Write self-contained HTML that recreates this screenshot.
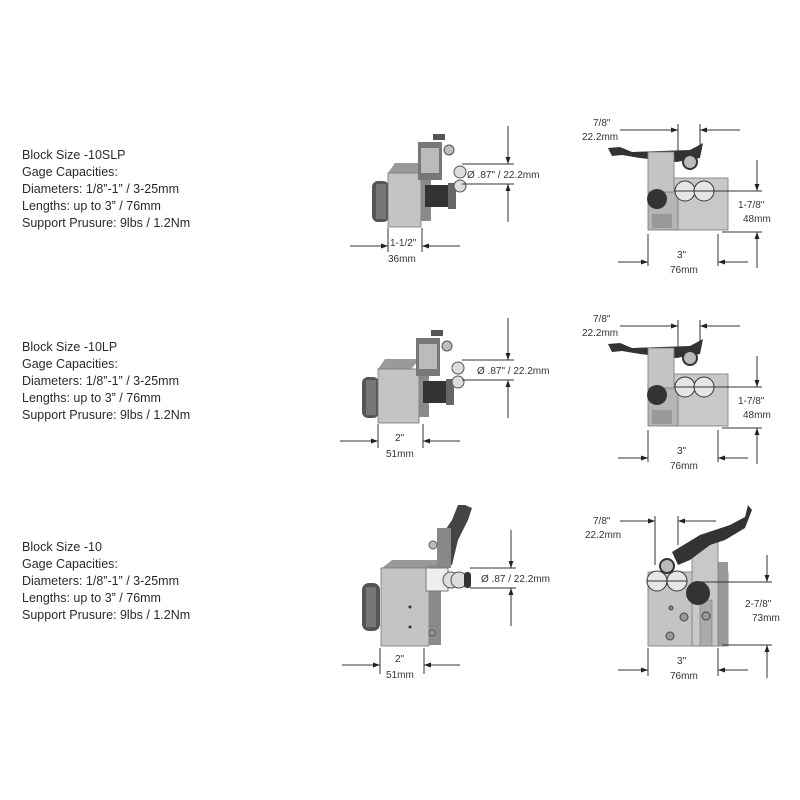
<!DOCTYPE html>
<html><head><meta charset="utf-8"><style>
html,body{margin:0;padding:0;background:#fff;}
svg{display:block}
text{font-family:"Liberation Sans",sans-serif;fill:#333;}
.t{font-size:12.5px;fill:#2a2a2a}
.d{font-size:10px;fill:#333}
.l{stroke:#333;stroke-width:1;fill:none}
</style></head><body>
<svg width="800" height="800" viewBox="0 0 800 800" xmlns="http://www.w3.org/2000/svg">
<defs>
<marker id="a" viewBox="0 0 10 10" refX="10" refY="5" markerWidth="10" markerHeight="7" orient="auto" markerUnits="userSpaceOnUse"><path d="M0,1.5L10,5L0,8.5z" fill="#222"/></marker>
</defs>
<rect width="800" height="800" fill="#fff"/>

<!-- left texts -->
<g class="t">
<text x="22" y="159" class="t">Block Size -10SLP</text>
<text x="22" y="176" class="t">Gage Capacities:</text>
<text x="22" y="193" class="t">Diameters: 1/8”-1” / 3-25mm</text>
<text x="22" y="210" class="t">Lengths: up to 3” / 76mm</text>
<text x="22" y="227" class="t">Support Prusure: 9lbs / 1.2Nm</text>

<text x="22" y="351" class="t">Block Size -10LP</text>
<text x="22" y="368" class="t">Gage Capacities:</text>
<text x="22" y="385" class="t">Diameters: 1/8”-1” / 3-25mm</text>
<text x="22" y="402" class="t">Lengths: up to 3” / 76mm</text>
<text x="22" y="419" class="t">Support Prusure: 9lbs / 1.2Nm</text>

<text x="22" y="551" class="t">Block Size -10</text>
<text x="22" y="568" class="t">Gage Capacities:</text>
<text x="22" y="585" class="t">Diameters: 1/8”-1” / 3-25mm</text>
<text x="22" y="602" class="t">Lengths: up to 3” / 76mm</text>
<text x="22" y="619" class="t">Support Prusure: 9lbs / 1.2Nm</text>
</g>

<!-- ROW 1 left object -->
<g id="L1">
<rect x="372" y="181" width="17" height="41" rx="6" fill="#555"/>
<rect x="376" y="184" width="10" height="35" fill="#777"/>
<polygon points="388,173 395,163 430,163 421,173" fill="#9a9a9a"/>
<rect x="388" y="173" width="33" height="54" fill="#c4c4c4" stroke="#777" stroke-width=".8"/>
<rect x="421" y="163" width="10" height="58" fill="#8a8a8a"/>
<rect x="418" y="142" width="24" height="38" fill="#777"/>
<rect x="421" y="148" width="18" height="25" fill="#bbb"/>
<circle cx="449" cy="150" r="5" fill="#bbb" stroke="#555"/>
<rect x="433" y="134" width="12" height="6" fill="#555"/>
<rect x="425" y="185" width="27" height="22" fill="#333"/>
<rect x="448" y="183" width="8" height="26" fill="#666"/>
<circle cx="460" cy="172" r="6" fill="#ddd" stroke="#555"/>
<circle cx="460" cy="186" r="6" fill="#ddd" stroke="#555"/>
</g>
<g id="D1">
<line class="l" x1="462" y1="164" x2="514" y2="164"/>
<line class="l" x1="462" y1="184" x2="514" y2="184"/>
<line class="l" x1="508" y1="126" x2="508" y2="164" marker-end="url(#a)"/>
<line class="l" x1="508" y1="222" x2="508" y2="184" marker-end="url(#a)"/>
<text class="d" x="467" y="178">Ø .87" / 22.2mm</text>
<line class="l" x1="388" y1="228" x2="388" y2="252"/>
<line class="l" x1="422" y1="228" x2="422" y2="252"/>
<line class="l" x1="350" y1="246" x2="388" y2="246" marker-end="url(#a)"/>
<line class="l" x1="460" y1="246" x2="422" y2="246" marker-end="url(#a)"/>
<text class="d" x="390" y="246">1-1/2"</text>
<text class="d" x="388" y="262">36mm</text>
</g>

<!-- ROW 1 right object -->
<g id="R1">
<rect x="672" y="178" width="56" height="52" fill="#c8c8c8" stroke="#777" stroke-width=".8"/>
<rect x="648" y="188" width="30" height="42" fill="#b5b5b5" stroke="#777" stroke-width=".8"/>
<rect x="652" y="214" width="20" height="14" fill="#999"/>
<path d="M608,148 L620,147 L632,152 L690,150 L703,143 L700,158 L676,162 L640,158 L622,155 L612,156z" fill="#333"/>
<rect x="648" y="152" width="26" height="40" fill="#c4c4c4" stroke="#777" stroke-width=".8"/>
<circle cx="690" cy="162" r="7" fill="#bbb" stroke="#333" stroke-width="2"/>
<circle cx="685" cy="191" r="10" fill="#e6e6e6" stroke="#333"/>
<circle cx="704" cy="191" r="10" fill="#e6e6e6" stroke="#333"/>
<line class="l" x1="675" y1="191" x2="714" y2="191"/>
<circle cx="657" cy="199" r="10" fill="#333"/>
</g>
<g id="RD1">
<text class="d" x="593" y="126">7/8"</text>
<text class="d" x="582" y="140">22.2mm</text>
<line class="l" x1="620" y1="130" x2="678" y2="130" marker-end="url(#a)"/>
<line class="l" x1="678" y1="124" x2="678" y2="162"/>
<line class="l" x1="700" y1="124" x2="700" y2="150"/>
<line class="l" x1="740" y1="130" x2="700" y2="130" marker-end="url(#a)"/>
<line class="l" x1="757" y1="160" x2="757" y2="191" marker-end="url(#a)"/>
<line class="l" x1="700" y1="191" x2="762" y2="191"/>
<line class="l" x1="722" y1="232" x2="762" y2="232"/>
<line class="l" x1="757" y1="268" x2="757" y2="232" marker-end="url(#a)"/>
<text class="d" x="738" y="208">1-7/8"</text>
<text class="d" x="743" y="222">48mm</text>
<line class="l" x1="648" y1="234" x2="648" y2="266"/>
<line class="l" x1="718" y1="234" x2="718" y2="266"/>
<line class="l" x1="618" y1="262" x2="648" y2="262" marker-end="url(#a)"/>
<line class="l" x1="748" y1="262" x2="718" y2="262" marker-end="url(#a)"/>
<text class="d" x="677" y="258">3"</text>
<text class="d" x="670" y="273">76mm</text>
</g>

<!-- ROW 2 -->
<g transform="translate(-10,196)">
<rect x="372" y="181" width="17" height="41" rx="6" fill="#555"/>
<rect x="376" y="184" width="10" height="35" fill="#777"/>
<polygon points="388,173 395,163 430,163 421,173" fill="#9a9a9a"/>
<rect x="388" y="173" width="41" height="54" fill="#c4c4c4" stroke="#777" stroke-width=".8"/>
<rect x="429" y="163" width="10" height="58" fill="#8a8a8a"/>
<rect x="426" y="142" width="24" height="38" fill="#777"/>
<rect x="429" y="148" width="18" height="25" fill="#bbb"/>
<circle cx="457" cy="150" r="5" fill="#bbb" stroke="#555"/>
<rect x="441" y="134" width="12" height="6" fill="#555"/>
<rect x="433" y="185" width="27" height="22" fill="#333"/>
<rect x="456" y="183" width="8" height="26" fill="#666"/>
<circle cx="468" cy="172" r="6" fill="#ddd" stroke="#555"/>
<circle cx="468" cy="186" r="6" fill="#ddd" stroke="#555"/>
</g>
<g transform="translate(0,196)">
<line class="l" x1="462" y1="164" x2="514" y2="164"/>
<line class="l" x1="462" y1="184" x2="514" y2="184"/>
<line class="l" x1="508" y1="122" x2="508" y2="164" marker-end="url(#a)"/>
<line class="l" x1="508" y1="222" x2="508" y2="184" marker-end="url(#a)"/>
<text class="d" x="477" y="178">Ø .87" / 22.2mm</text>
<line class="l" x1="378" y1="228" x2="378" y2="252"/>
<line class="l" x1="423" y1="228" x2="423" y2="252"/>
<line class="l" x1="340" y1="245" x2="378" y2="245" marker-end="url(#a)"/>
<line class="l" x1="460" y1="245" x2="423" y2="245" marker-end="url(#a)"/>
<text class="d" x="395" y="245">2"</text>
<text class="d" x="386" y="261">51mm</text>
</g>
<g transform="translate(0,196)">
<rect x="672" y="178" width="56" height="52" fill="#c8c8c8" stroke="#777" stroke-width=".8"/>
<rect x="648" y="188" width="30" height="42" fill="#b5b5b5" stroke="#777" stroke-width=".8"/>
<rect x="652" y="214" width="20" height="14" fill="#999"/>
<path d="M608,148 L620,147 L632,152 L690,150 L703,143 L700,158 L676,162 L640,158 L622,155 L612,156z" fill="#333"/>
<rect x="648" y="152" width="26" height="40" fill="#c4c4c4" stroke="#777" stroke-width=".8"/>
<circle cx="690" cy="162" r="7" fill="#bbb" stroke="#333" stroke-width="2"/>
<circle cx="685" cy="191" r="10" fill="#e6e6e6" stroke="#333"/>
<circle cx="704" cy="191" r="10" fill="#e6e6e6" stroke="#333"/>
<line class="l" x1="675" y1="191" x2="714" y2="191"/>
<circle cx="657" cy="199" r="10" fill="#333"/>
<text class="d" x="593" y="126">7/8"</text>
<text class="d" x="582" y="140">22.2mm</text>
<line class="l" x1="620" y1="130" x2="678" y2="130" marker-end="url(#a)"/>
<line class="l" x1="678" y1="124" x2="678" y2="162"/>
<line class="l" x1="700" y1="124" x2="700" y2="150"/>
<line class="l" x1="740" y1="130" x2="700" y2="130" marker-end="url(#a)"/>
<line class="l" x1="757" y1="160" x2="757" y2="191" marker-end="url(#a)"/>
<line class="l" x1="700" y1="191" x2="762" y2="191"/>
<line class="l" x1="722" y1="232" x2="762" y2="232"/>
<line class="l" x1="757" y1="268" x2="757" y2="232" marker-end="url(#a)"/>
<text class="d" x="738" y="208">1-7/8"</text>
<text class="d" x="743" y="222">48mm</text>
<line class="l" x1="648" y1="234" x2="648" y2="266"/>
<line class="l" x1="718" y1="234" x2="718" y2="266"/>
<line class="l" x1="618" y1="262" x2="648" y2="262" marker-end="url(#a)"/>
<line class="l" x1="748" y1="262" x2="718" y2="262" marker-end="url(#a)"/>
<text class="d" x="677" y="258">3"</text>
<text class="d" x="670" y="273">76mm</text>
</g>

<!-- ROW 3 left -->
<g>
<rect x="362" y="583" width="18" height="48" rx="7" fill="#555"/>
<rect x="366" y="587" width="10" height="40" fill="#777"/>
<polygon points="382,568 392,560 445,560 440,568" fill="#999"/>
<rect x="381" y="568" width="48" height="78" fill="#c4c4c4" stroke="#777" stroke-width=".8"/>
<rect x="429" y="565" width="12" height="80" fill="#8a8a8a"/>
<path d="M465,505 L472,508 L468,520 L458,540 L452,565 L440,565 L442,535 L452,520 L458,505z" fill="#444"/>
<rect x="437" y="528" width="14" height="40" fill="#888"/>
<circle cx="433" cy="545" r="4" fill="#bbb" stroke="#555"/>
<rect x="426" y="568" width="22" height="23" fill="#eee" stroke="#777"/>
<circle cx="451" cy="580" r="8" fill="#ddd" stroke="#555"/>
<circle cx="459" cy="580" r="8" fill="#ddd" stroke="#555"/>
<rect x="464" y="572" width="7" height="16" rx="3" fill="#333"/>
<circle cx="410" cy="607" r="1.5" fill="#333"/>
<circle cx="410" cy="627" r="1.5" fill="#333"/>
<circle cx="432" cy="633" r="3" fill="#999" stroke="#555"/>
</g>
<g>
<line class="l" x1="470" y1="568" x2="516" y2="568"/>
<line class="l" x1="470" y1="588" x2="516" y2="588"/>
<line class="l" x1="511" y1="530" x2="511" y2="568" marker-end="url(#a)"/>
<line class="l" x1="511" y1="626" x2="511" y2="588" marker-end="url(#a)"/>
<text class="d" x="481" y="582">Ø .87 / 22.2mm</text>
<line class="l" x1="380" y1="648" x2="380" y2="674"/>
<line class="l" x1="424" y1="648" x2="424" y2="674"/>
<line class="l" x1="342" y1="665" x2="380" y2="665" marker-end="url(#a)"/>
<line class="l" x1="460" y1="665" x2="424" y2="665" marker-end="url(#a)"/>
<text class="d" x="395" y="662">2"</text>
<text class="d" x="386" y="678">51mm</text>
</g>

<!-- ROW 3 right -->
<g>
<rect x="648" y="572" width="80" height="74" fill="#c4c4c4" stroke="#777" stroke-width=".8"/>
<rect x="718" y="562" width="10" height="84" fill="#999"/>
<rect x="692" y="540" width="26" height="106" fill="#c8c8c8" stroke="#777" stroke-width=".8"/>
<rect x="700" y="600" width="12" height="46" fill="#aaa" stroke="#777" stroke-width=".6"/>
<path d="M672,552 L700,535 L730,525 L745,517 L748,505 L752,510 L745,528 L725,540 L710,545 L690,560 L678,565z" fill="#333"/>
<circle cx="667" cy="566" r="7" fill="#bbb" stroke="#333" stroke-width="2"/>
<circle cx="657" cy="581" r="10" fill="#e6e6e6" stroke="#333"/>
<circle cx="677" cy="581" r="10" fill="#e6e6e6" stroke="#333"/>
<line class="l" x1="647" y1="581" x2="687" y2="581"/>
<circle cx="698" cy="593" r="12" fill="#333"/>
<circle cx="671" cy="608" r="2" fill="#888" stroke="#444"/>
<circle cx="684" cy="617" r="4" fill="#999" stroke="#444"/>
<circle cx="670" cy="636" r="4" fill="#999" stroke="#444"/>
<circle cx="706" cy="616" r="4" fill="#999" stroke="#444"/>
</g>
<g>
<text class="d" x="593" y="524">7/8"</text>
<text class="d" x="585" y="538">22.2mm</text>
<line class="l" x1="620" y1="521" x2="655" y2="521" marker-end="url(#a)"/>
<line class="l" x1="655" y1="516" x2="655" y2="565"/>
<line class="l" x1="678" y1="516" x2="678" y2="545"/>
<line class="l" x1="716" y1="521" x2="678" y2="521" marker-end="url(#a)"/>
<line class="l" x1="767" y1="555" x2="767" y2="582" marker-end="url(#a)"/>
<line class="l" x1="700" y1="582" x2="772" y2="582"/>
<line class="l" x1="722" y1="645" x2="772" y2="645"/>
<line class="l" x1="767" y1="678" x2="767" y2="645" marker-end="url(#a)"/>
<text class="d" x="745" y="607">2-7/8"</text>
<text class="d" x="752" y="621">73mm</text>
<line class="l" x1="648" y1="648" x2="648" y2="676"/>
<line class="l" x1="718" y1="648" x2="718" y2="676"/>
<line class="l" x1="618" y1="670" x2="648" y2="670" marker-end="url(#a)"/>
<line class="l" x1="748" y1="670" x2="718" y2="670" marker-end="url(#a)"/>
<text class="d" x="677" y="664">3"</text>
<text class="d" x="670" y="679">76mm</text>
</g>
</svg>
</body></html>
